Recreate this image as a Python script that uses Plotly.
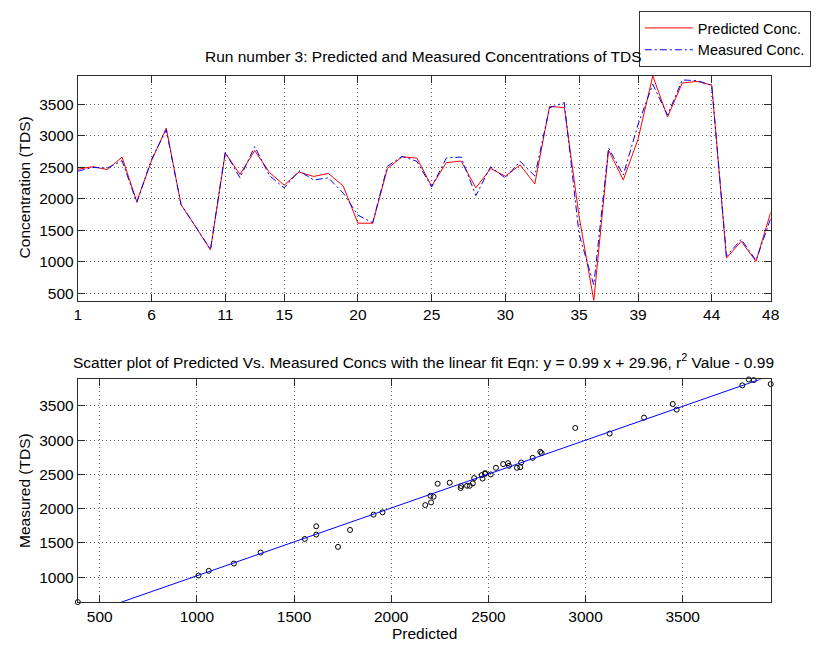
import plotly.graph_objects as go

# ---------------- data ----------------
run_index = list(range(1, 49))
predicted = [2470, 2512, 2466, 2664, 1955, 2606, 3124, 1909, 1555, 1190,
             2728, 2390, 2767, 2420, 2218, 2427, 2357, 2404, 2205, 1614,
             1614, 2483, 2669, 2647, 2202, 2576, 2601, 2175, 2483, 2360,
             2539, 2239, 3469, 3449, 1726, 387, 2774, 2301, 2947, 3953,
             3301, 3840, 3866, 3807, 1061, 1328, 1008, 1788]
measured = [2440, 2500, 2490, 2607, 1947, 2626, 3097, 1913, 1558, 1199,
            2743, 2335, 2830, 2370, 2175, 2447, 2301, 2335, 2092, 1743,
            1621, 2519, 2675, 2597, 2189, 2650, 2665, 2053, 2510, 2330,
            2597, 2364, 3446, 3529, 1442, 636, 2811, 2379, 3179, 3820,
            3330, 3888, 3878, 3801, 1092, 1359, 1024, 1689]
top_xticks = [1, 6, 11, 15, 20, 25, 30, 35, 39, 44, 48]
top_yticks = [500, 1000, 1500, 2000, 2500, 3000, 3500]
bot_xticks = [500, 1000, 1500, 2000, 2500, 3000, 3500]
bot_yticks = [1000, 1500, 2000, 2500, 3000, 3500]
fit_slope = 0.99
fit_intercept = 29.96

title_top = "Run number 3: Predicted and Measured Concentrations of TDS"
title_bot = ("Scatter plot of Predicted Vs. Measured Concs with the linear fit Eqn: "
             "y = 0.99 x + 29.96, r<sup>2</sup> Value - 0.99")

# ---------------- layout helpers ----------------
W, H = 824, 645
def fx(px):
    return px / W
def fy(py):
    return 1 - py / H

FONT = "Arial, Liberation Sans, sans-serif"
FS = 15.5
AXC = "#2b2b2b"

def axis_style(**kw):
    d = dict(showline=True, linecolor=AXC, linewidth=1, mirror="allticks",
             ticks="inside", ticklen=7, tickcolor=AXC, tickwidth=1,
             showgrid=True, gridcolor="rgba(0,0,0,0.6)", gridwidth=1,
             griddash="1px,3px", zeroline=False,
             tickfont=dict(family=FONT, size=FS, color="black"))
    d.update(kw)
    return d

fig = go.Figure()

fig.add_trace(go.Scatter(x=run_index, y=predicted, mode="lines",
                         name="Predicted Conc.",
                         line=dict(color="#ff0000", width=1),
                         xaxis="x", yaxis="y"))
fig.add_trace(go.Scatter(x=run_index, y=measured, mode="lines",
                         name="Measured Conc.",
                         line=dict(color="#0000ff", width=1, dash="7px,3px,2px,3px"),
                         xaxis="x", yaxis="y"))

xmin, xmax = min(predicted), max(predicted)
ymin, ymax = min(measured), max(measured)

fig.add_trace(go.Scatter(x=predicted, y=measured, mode="markers",
                         showlegend=False, cliponaxis=False,
                         marker=dict(symbol="circle-open", size=5,
                                     color="black", line=dict(width=1, color="black")),
                         xaxis="x2", yaxis="y2"))
fit_x = [xmin, xmax]
fig.add_trace(go.Scatter(x=fit_x, y=[fit_slope * v + fit_intercept for v in fit_x],
                         mode="lines", showlegend=False,
                         line=dict(color="#0000ff", width=1),
                         xaxis="x2", yaxis="y2"))

top_lo = min(min(predicted), min(measured))
top_hi = max(max(predicted), max(measured))

fig.update_layout(
    width=W, height=H,
    margin=dict(l=0, r=0, t=0, b=0),
    paper_bgcolor="white", plot_bgcolor="white",
    font=dict(family=FONT, size=FS, color="black"),
    xaxis=axis_style(domain=[fx(75), fx(779)], anchor="y",
                     range=[1, 48], tickmode="array", tickvals=top_xticks),
    yaxis=axis_style(domain=[fy(301), fy(76)], anchor="x",
                     range=[top_lo, top_hi], tickmode="array", tickvals=top_yticks),
    xaxis2=axis_style(domain=[fx(75), fx(779)], anchor="y2",
                      range=[xmin, xmax], tickmode="array", tickvals=bot_xticks),
    yaxis2=axis_style(domain=[fy(603), fy(380)], anchor="x2",
                      range=[ymin, ymax], tickmode="array", tickvals=bot_yticks),
    legend=dict(x=fx(645), y=fy(11), xanchor="left", yanchor="top",
                bgcolor="white", bordercolor="#333333", borderwidth=1,
                font=dict(family=FONT, size=14.5, color="black"),
                itemwidth=48, tracegroupgap=0),
    showlegend=True,
)

annots = [
    dict(text=title_top, x=fx(426), y=fy(57), size=FS, yanchor="middle"),
    dict(text=title_bot, x=fx(426), y=fy(362), size=FS, yanchor="middle"),
    dict(text="Concentration (TDS)", x=fx(21), y=fy(188), textangle=-90, size=FS,
         yanchor="middle"),
    dict(text="Measured (TDS)", x=fx(21), y=fy(491), textangle=-90, size=FS,
         yanchor="middle"),
    dict(text="Predicted", x=fx(427), y=fy(644.5), size=FS, yanchor="bottom"),
]
for a in annots:
    sz = a.pop("size")
    fig.add_annotation(xref="paper", yref="paper", xanchor="center",
                       showarrow=False, font=dict(family=FONT, size=sz, color="black"), **a)

# remove the browser's default 8px body margin so the figure fills the window exactly
fig.write_html("out.html",
               config={"displayModeBar": False},
               post_script="document.body.style.margin='0px';document.body.style.overflow='hidden';")
